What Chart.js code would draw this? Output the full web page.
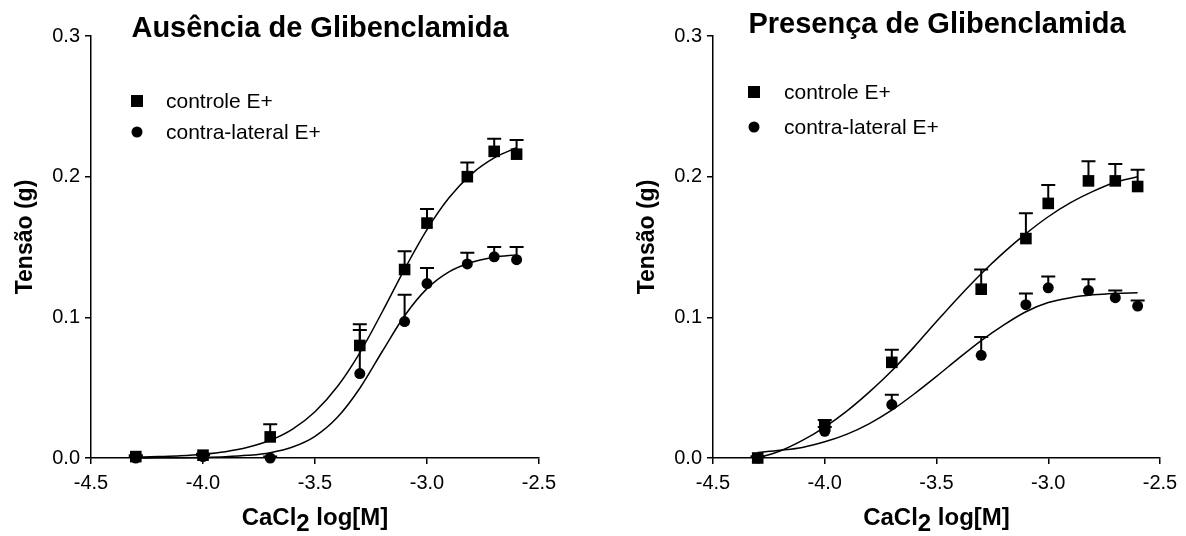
<!DOCTYPE html>
<html>
<head>
<meta charset="utf-8">
<title>Tensão x CaCl2</title>
<script src="https://cdn.jsdelivr.net/npm/chart.js@4"></script>
<style>
  html, body { margin: 0; padding: 0; background: #fff; }
  #wrap { position: relative; width: 1186px; height: 536px; }
  canvas { position: absolute; top: 0; }
  #left { left: 0; }
  #right { left: 593px; }
</style>
</head>
<body>
<div id="wrap">
  <canvas id="left" width="593" height="536"></canvas>
  <canvas id="right" width="593" height="536"></canvas>
</div>
<script>
// log[CaCl2] concentrations used in both protocols
const logConc = [-4.3, -4.0, -3.7, -3.3, -3.1, -3.0, -2.82, -2.7, -2.6]
const xTicks = [-4.5, -4.0, -3.5, -3.0, -2.5]
const yTicks = [0.0, 0.1, 0.2, 0.3]

// Ausência de Glibenclamida: mean tension (g) and SEM
const ausControle = [0.001, 0.002, 0.015, 0.080, 0.134, 0.167, 0.200, 0.218, 0.216]
const ausControleSem = [0.001, 0.001, 0.009, 0.015, 0.013, 0.010, 0.010, 0.009, 0.010]
const ausContra = [0.000, 0.001, 0.000, 0.060, 0.097, 0.124, 0.138, 0.143, 0.141]
const ausContraSem = [0.001, 0.001, 0.001, 0.031, 0.019, 0.011, 0.008, 0.007, 0.009]

// Presença de Glibenclamida: mean tension (g) and SEM
const presControle = [0.000, 0.023, 0.068, 0.120, 0.156, 0.181, 0.197, 0.197, 0.193]
const presControleSem = [0.001, 0.004, 0.009, 0.014, 0.018, 0.013, 0.014, 0.012, 0.012]
const presContra = [0.000, 0.019, 0.038, 0.073, 0.109, 0.121, 0.119, 0.114, 0.108]
const presContraSem = [0.001, 0.003, 0.007, 0.013, 0.008, 0.008, 0.008, 0.005, 0.004]

// fitted concentration-response curves, sampled every 0.1 log unit
const fitX = [-4.3, -4.2, -4.1, -4.0, -3.9, -3.8, -3.7, -3.6, -3.5, -3.4, -3.3, -3.2, -3.1, -3.0, -2.9, -2.8, -2.7, -2.6]
const ausControleFit = [0.0005, 0.001, 0.0016, 0.0027, 0.0045, 0.0076, 0.0126, 0.0206, 0.0329, 0.0508, 0.0748, 0.1038, 0.1343, 0.1624, 0.1853, 0.2020, 0.2133, 0.2206]
const ausContraFit = [0.0000, 0.0001, 0.0002, 0.0004, 0.0009, 0.0019, 0.0038, 0.0078, 0.0154, 0.0289, 0.0496, 0.0757, 0.1011, 0.1204, 0.1325, 0.1392, 0.1427, 0.1444]
const presControleFit = [0.000, 0.005, 0.0125, 0.022, 0.0335, 0.047, 0.062, 0.079, 0.097, 0.1145, 0.131, 0.146, 0.1595, 0.1715, 0.1815, 0.1895, 0.196, 0.200]
const presContraFit = [0.004, 0.0055, 0.0075, 0.0115, 0.017, 0.0245, 0.034, 0.0455, 0.058, 0.071, 0.0835, 0.0945, 0.104, 0.1105, 0.114, 0.116, 0.117, 0.1174]

const FONT = "'Liberation Sans', Arial, Helvetica, sans-serif"
Chart.defaults.font.family = FONT
Chart.defaults.color = '#000'

const pts = (xs, ys) => xs.map((x, i) => ({ x: x, y: ys[i] }))

// upward-only SEM bars with a flat cap
const errorBars = {
  id: 'errorBars',
  afterDatasetsDraw(chart) {
    const ctx = chart.ctx
    const yScale = chart.scales.y
    chart.data.datasets.forEach((ds, i) => {
      if (!ds.sem) return
      const meta = chart.getDatasetMeta(i)
      ctx.save()
      ctx.strokeStyle = '#000'
      ctx.lineWidth = 2
      meta.data.forEach((pt, j) => {
        const top = yScale.getPixelForValue(ds.data[j].y + ds.sem[j])
        ctx.beginPath()
        ctx.moveTo(pt.x, pt.y)
        ctx.lineTo(pt.x, top)
        ctx.moveTo(pt.x - 7, top)
        ctx.lineTo(pt.x + 7, top)
        ctx.stroke()
      })
      ctx.restore()
    })
  }
}

// panel title, inset legend and axis titles
const panelText = {
  id: 'panelText',
  afterDraw(chart, args, o) {
    const ctx = chart.ctx
    ctx.save()
    ctx.fillStyle = '#000'

    ctx.font = 'bold 29px ' + FONT
    ctx.textAlign = 'center'
    ctx.textBaseline = 'alphabetic'
    ctx.fillText(o.title, o.titleX, o.titleY)

    // legend built from the marker datasets
    ctx.font = '21px ' + FONT
    ctx.textAlign = 'left'
    ctx.textBaseline = 'middle'
    let row = 0
    chart.data.datasets.forEach(ds => {
      if (!ds.sem) return
      const y = o.legendY[row++]
      ctx.beginPath()
      if (ds.pointStyle === 'rect') {
        ctx.rect(o.legendX - 6, y - 6, 12, 12)
      } else {
        ctx.arc(o.legendX, y, 5.5, 0, Math.PI * 2)
      }
      ctx.fill()
      ctx.fillText(ds.label, o.legendTextX, y + 1)
    })

    // y axis title
    ctx.font = 'bold 23px ' + FONT
    ctx.textAlign = 'center'
    ctx.textBaseline = 'alphabetic'
    ctx.save()
    ctx.translate(o.yTitleX, o.yTitleY)
    ctx.rotate(-Math.PI / 2)
    ctx.fillText('Tensão (g)', 0, 0)
    ctx.restore()

    // x axis title with lowered subscript
    ctx.font = 'bold 24px ' + FONT
    const parts = ['CaCl', '2', ' log[M]']
    const widths = parts.map(p => ctx.measureText(p).width)
    let x = o.xTitleX - (widths[0] + widths[1] + widths[2]) / 2
    ctx.textAlign = 'left'
    ctx.fillText(parts[0], x, o.xTitleY)
    x += widths[0]
    ctx.fillText(parts[1], x, o.xTitleY + 6)
    x += widths[1]
    ctx.fillText(parts[2], x, o.xTitleY)
    ctx.restore()
  }
}

function makePanel(id, p) {
  const markers = (label, ys, sem, style, r) => ({
    label: label,
    data: pts(logConc, ys),
    sem: sem,
    showLine: false,
    pointStyle: style,
    pointRadius: r,
    pointBackgroundColor: '#000',
    pointBorderColor: '#000',
    pointBorderWidth: 0,
    clip: false
  })
  const fit = ys => ({
    label: 'fit',
    data: pts(fitX, ys),
    showLine: true,
    borderColor: '#000',
    borderWidth: 1.5,
    pointRadius: 0,
    cubicInterpolationMode: 'monotone',
    clip: false
  })

  new Chart(document.getElementById(id), {
    type: 'scatter',
    data: {
      datasets: [
        fit(p.fitA),
        fit(p.fitB),
        markers('controle E+', p.controle, p.controleSem, 'rect', 8.2),
        markers('contra-lateral E+', p.contra, p.contraSem, 'circle', 5.5)
      ]
    },
    options: {
      responsive: false,
      animation: false,
      devicePixelRatio: 1,
      layout: { padding: { top: 36, right: p.padRight, left: 0, bottom: 0 } },
      plugins: {
        legend: { display: false },
        tooltip: { enabled: false },
        panelText: p.text
      },
      scales: {
        x: {
          type: 'linear',
          min: -4.5,
          max: -2.5,
          afterBuildTicks: s => { s.ticks = xTicks.map(v => ({ value: v })) },
          ticks: { font: { size: 20 }, padding: 7, callback: v => v.toFixed(1) },
          grid: { drawOnChartArea: false, drawTicks: true, tickLength: 6, color: '#000', lineWidth: 1.5 },
          border: { color: '#000', width: 1.5 },
          afterFit: s => { s.height = 78 }
        },
        y: {
          min: 0,
          max: 0.3,
          afterBuildTicks: s => { s.ticks = yTicks.map(v => ({ value: v })) },
          ticks: { font: { size: 20 }, padding: 5, callback: v => v.toFixed(1) },
          grid: { drawOnChartArea: false, drawTicks: true, tickLength: 6, color: '#000', lineWidth: 1.5 },
          border: { color: '#000', width: 1.5 },
          afterFit: s => { s.width = p.yWidth }
        }
      }
    },
    plugins: [errorBars, panelText]
  })
}

makePanel('left', {
  controle: ausControle, controleSem: ausControleSem,
  contra: ausContra, contraSem: ausContraSem,
  fitA: ausControleFit, fitB: ausContraFit,
  yWidth: 91, padRight: 54,
  text: {
    title: 'Ausência de Glibenclamida', titleX: 320, titleY: 37,
    legendX: 137, legendTextX: 166, legendY: [101, 132],
    yTitleX: 32, yTitleY: 237, xTitleX: 315, xTitleY: 525
  }
})

makePanel('right', {
  controle: presControle, controleSem: presControleSem,
  contra: presContra, contraSem: presContraSem,
  fitA: presControleFit, fitB: presContraFit,
  yWidth: 120, padRight: 26,
  text: {
    title: 'Presença de Glibenclamida', titleX: 344, titleY: 33,
    legendX: 161, legendTextX: 191, legendY: [92, 127],
    yTitleX: 61, yTitleY: 237, xTitleX: 343.5, xTitleY: 525
  }
})
</script>
</body>
</html>
